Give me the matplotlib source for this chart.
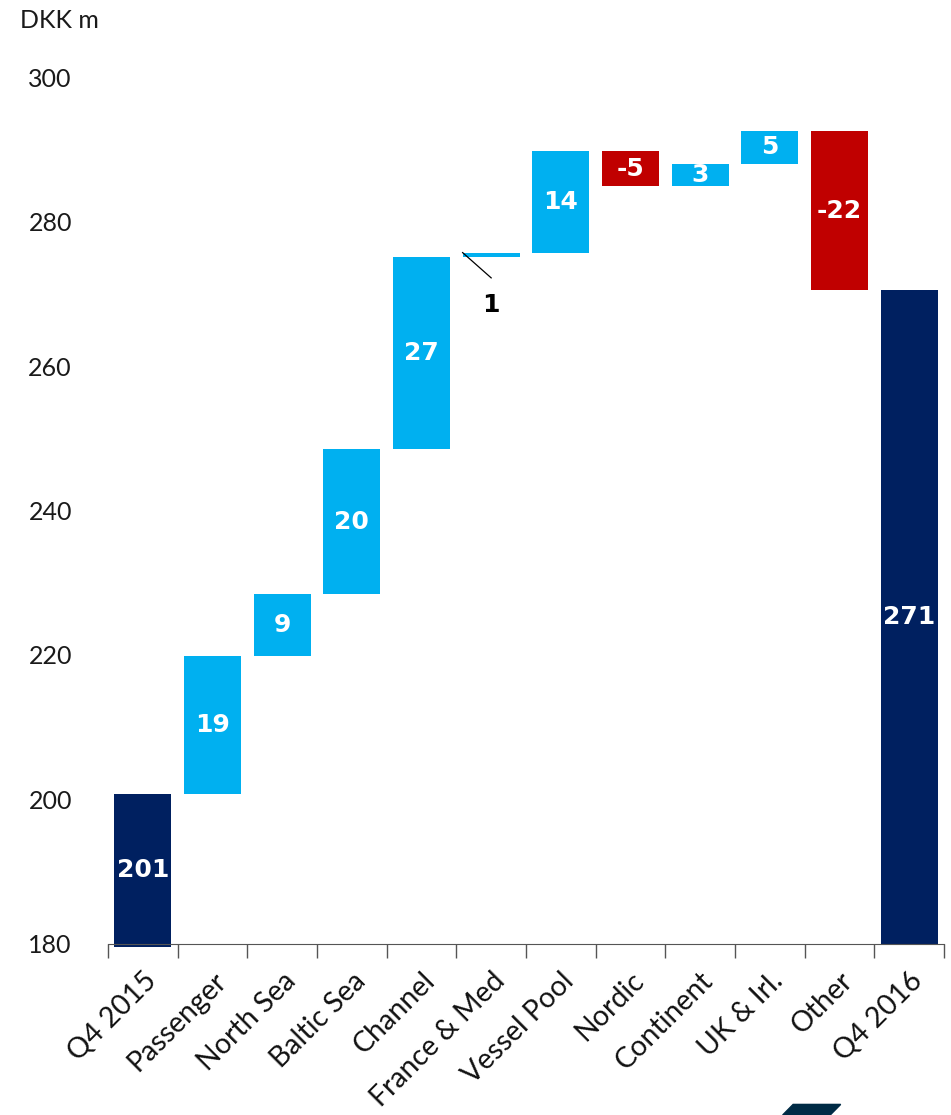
import matplotlib.pyplot as plt
from matplotlib.patches import Polygon

categories = ["Q4 2015", "Passenger", "North Sea", "Baltic Sea", "Channel", "France & Med",
              "Vessel Pool", "Nordic", "Continent", "UK & Irl.", "Other", "Q4 2016"]
start_value = 200.8
deltas = [19.1, 8.5, 20.1, 26.6, 0.6, 14.0, -4.8, 3.1, 4.5, -22.0]
end_value = 270.5
bar_labels = ["201", "19", "9", "20", "27", "1", "14", "-5", "3", "5", "-22", "271"]
yticks = [180, 200, 220, 240, 260, 280, 300]

navy = "#002060"
blue = "#00B0F0"
red = "#C00000"

plt.rcParams['font.family'] = ['Lato', 'DejaVu Sans']

fig = plt.figure(figsize=(9.51, 11.15), dpi=100)
ax = fig.add_axes([0.1136, 0.1534, 0.879, 0.7775])

base = 180
bottoms = []
heights = []
colors = []

# first total bar
bottoms.append(base - 0.4)
heights.append(start_value - base + 0.4)
colors.append(navy)
level = start_value
for d in deltas:
    if d >= 0:
        bottoms.append(level)
        heights.append(d)
        colors.append(blue)
    else:
        bottoms.append(level + d)
        heights.append(-d)
        colors.append(red)
    level += d
bottoms.append(base)
heights.append(end_value - base)
colors.append(navy)

x = list(range(len(categories)))
ax.bar(x, heights, bottom=bottoms, width=0.82, color=colors, clip_on=False, zorder=2)

for i, lab in enumerate(bar_labels):
    if lab == "1":
        top = bottoms[i] + heights[i]
        # small leader line to the outside label
        ax.plot([i - 0.41, i], [top, top - 3.5], color="black", lw=0.9, zorder=3)
        ax.text(i, top - 7.3, lab, ha="center", va="center", fontsize=18,
                fontweight="bold", color="black", family="DejaVu Sans")
    else:
        ax.text(i, bottoms[i] + heights[i] / 2, lab, ha="center", va="center",
                fontsize=18, fontweight="bold", color="white", zorder=3,
                family="DejaVu Sans")

ax.set_xlim(-0.5, len(categories) - 0.5)
ax.set_ylim(180, 300)
ax.set_yticks(yticks)
ax.tick_params(axis="y", length=0, labelsize=18, pad=26, labelcolor="#1a1a1a")

ax.set_xticks([i - 0.5 for i in range(len(categories) + 1)], minor=False)
ax.set_xticklabels([])
ax.tick_params(axis="x", which="major", length=10, color="#555555", width=1)
ax.set_xticks(x, minor=True)
ax.set_xticklabels(categories, minor=True, rotation=45, ha="right", rotation_mode="anchor",
                   fontsize=20.5, color="#111111")
ax.tick_params(axis="x", which="minor", length=0, pad=17)

for s in ["top", "right", "left"]:
    ax.spines[s].set_visible(False)
ax.spines["bottom"].set_color("#555555")

fig.text(0.021, 0.982, "DKK m", fontsize=18, color="#1a1a1a",
         ha="left", va="center")

# cut-off logo fragment at bottom edge
logo = Polygon([(0.823, 0.0), (0.873, 0.0), (0.884, 0.0095), (0.834, 0.0095)],
               closed=True, transform=fig.transFigure, color="#002B45")
fig.patches.append(logo)

fig.savefig("out.png", dpi=100)
